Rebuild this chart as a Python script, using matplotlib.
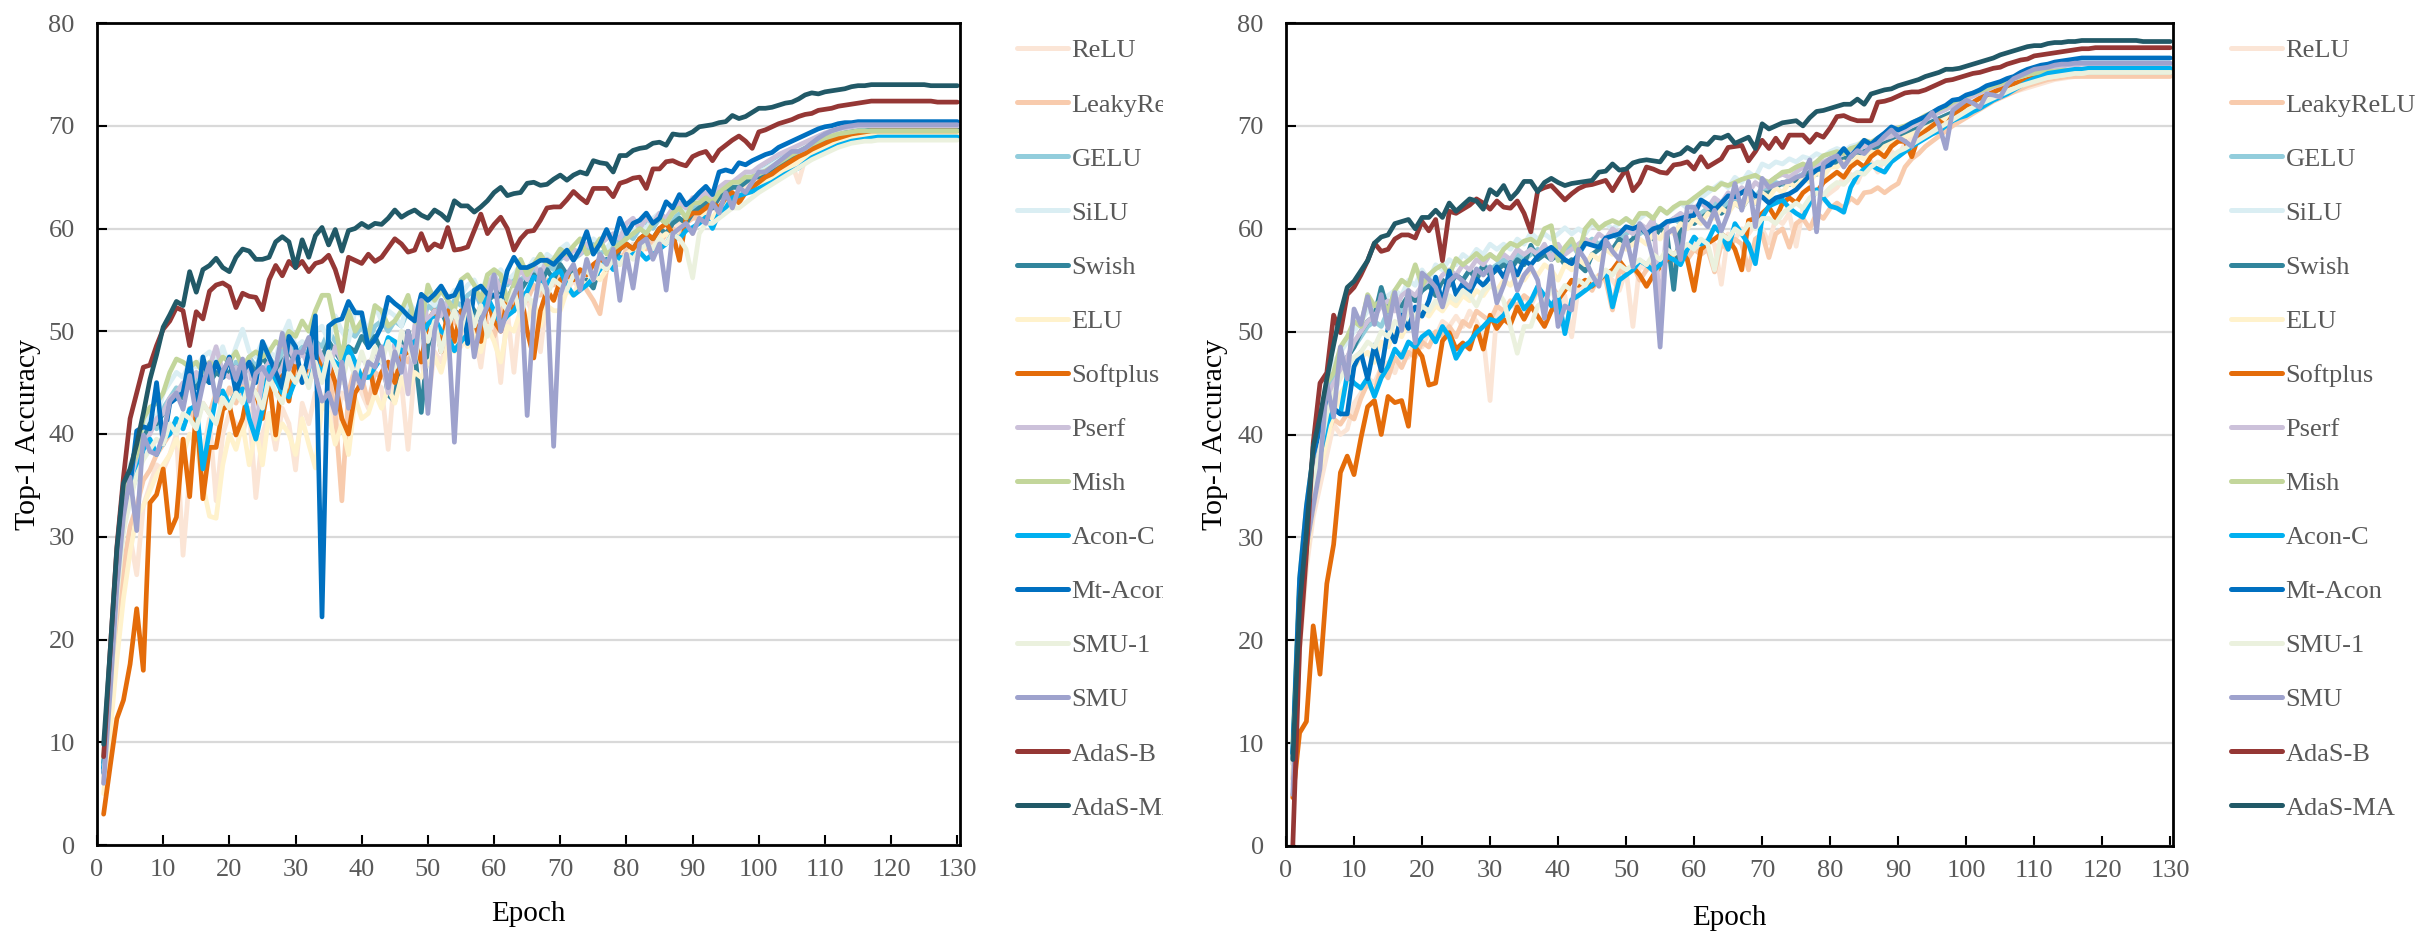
import matplotlib
matplotlib.use("Agg")
import matplotlib.pyplot as plt
from matplotlib.transforms import Bbox, TransformedBbox


OUT_PNG = "out.png"

epochs = list(range(1, 131))

labels = ["ReLU", "LeakyReLU", "GELU", "SiLU", "Swish", "ELU", "Softplus", "Pserf",
          "Mish", "Acon-C", "Mt-Acon", "SMU-1", "SMU", "AdaS-B", "AdaS-MA"]
colors = ["#FBE5D6", "#F8CBAD", "#92CDDC", "#DAEEF3", "#31859C", "#FFF2CC", "#E46C0A",
          "#CCC1DA", "#C3D69B", "#00B0F0", "#0070C0", "#EBF1DE", "#9EA2CD", "#953735",
          "#215967"]

# ---------------- left panel (a) ----------------
relu_a = [
    6.5, 14.0, 21.0, 27.0, 30.0, 26.3, 33.0, 35.0, 37.0, 36.5,
    38.0, 40.0, 28.2, 36.0, 40.0, 38.0, 41.5, 33.5, 40.0, 42.0,
    41.0, 40.0, 42.5, 33.8, 40.0, 42.0, 38.5, 42.5, 41.0, 36.5,
    43.0, 41.0, 44.0, 42.5, 45.0, 40.0, 44.0, 43.0, 45.5, 44.0,
    42.5, 45.0, 44.5, 38.5, 46.0, 45.0, 38.5, 46.5, 47.5, 43.0,
    48.0, 47.0, 49.0, 50.0, 48.5, 51.0, 50.0, 46.5, 51.5, 51.0,
    45.0, 52.0, 46.0, 52.5, 53.0, 51.5, 48.0, 53.5, 53.0, 54.5,
    54.0, 55.0, 54.0, 56.0, 55.5, 56.5, 56.0, 57.0, 57.5, 57.0,
    58.5, 58.0, 59.0, 58.5, 59.5, 60.0, 59.5, 60.5, 61.0, 61.0,
    61.5, 62.0, 62.5, 62.5, 63.0, 63.5, 63.0, 64.0, 64.5, 64.5,
    64.8, 65.2, 65.5, 65.9, 66.3, 64.5, 66.8, 67.3, 67.7, 68.0,
    68.3, 68.5, 68.7, 68.8, 68.9, 69.0, 69.0, 69.0, 69.0, 69.0,
    69.0, 69.0, 69.0, 69.0, 69.0, 69.0, 69.0, 69.0, 69.0, 69.0,
]
leaky_a = [
    6.0, 13.0, 20.5, 27.0, 31.0, 33.0, 35.5, 36.5, 38.0, 39.0,
    40.0, 41.5, 40.5, 42.5, 41.0, 43.0, 42.0, 44.0, 42.5, 44.5,
    43.0, 45.0, 44.0, 43.5, 45.5, 44.0, 46.0, 45.0, 44.5, 46.0,
    45.0, 46.5, 45.5, 47.0, 46.0, 42.0, 33.5, 44.0, 46.5, 45.5,
    43.0, 46.0, 45.5, 47.0, 46.5, 48.0, 47.0, 48.5, 47.5, 49.0,
    50.0, 49.0, 50.5, 51.0, 50.0, 52.0, 51.0, 52.5, 50.5, 49.5,
    52.0, 53.0, 52.5, 54.0, 53.0, 54.5, 53.5, 55.0, 54.5, 55.5,
    55.0, 56.0, 55.5, 54.0, 53.0, 51.7, 56.0, 57.0, 56.5, 58.0,
    57.5, 58.5, 58.0, 59.0, 58.5, 59.5, 60.0, 59.5, 60.5, 61.0,
    61.0, 61.5, 62.0, 62.0, 62.5, 63.0, 63.0, 63.5, 64.0, 64.5,
    64.9, 65.3, 65.7, 66.1, 66.5, 66.9, 67.3, 67.7, 68.1, 68.4,
    68.7, 69.0, 69.2, 69.3, 69.4, 69.5, 69.5, 69.5, 69.5, 69.5,
    69.5, 69.5, 69.5, 69.5, 69.5, 69.5, 69.5, 69.5, 69.5, 69.5,
]
gelu_a = [
    7.5, 16.5, 26.0, 32.5, 36.5, 39.0, 40.5, 41.5, 40.5, 42.5,
    43.5, 44.5, 44.0, 46.0, 45.0, 46.5, 45.5, 47.0, 46.0, 46.5,
    47.0, 46.0, 47.5, 46.5, 48.0, 47.5, 46.5, 48.0, 49.0, 47.5,
    48.5, 47.5, 49.0, 48.5, 50.0, 49.0, 48.0, 50.0, 49.5, 50.5,
    49.0, 50.5, 51.0, 50.0, 51.0, 50.5, 52.0, 51.0, 50.5, 52.5,
    52.0, 53.0, 52.0, 53.0, 52.5, 53.5, 54.0, 52.5, 54.0, 54.5,
    55.0, 54.5, 55.5, 55.0, 55.5, 56.0, 55.5, 56.5, 56.0, 57.0,
    57.5, 57.0, 57.5, 58.0, 58.5, 57.5, 58.0, 58.5, 59.0, 59.5,
    59.0, 60.0, 60.5, 60.0, 61.0, 60.5, 61.0, 61.5, 62.0, 62.0,
    62.5, 63.0, 62.5, 63.5, 64.0, 64.0, 64.5, 65.0, 65.5, 65.5,
    65.9, 66.3, 66.7, 67.1, 67.5, 67.8, 68.1, 68.4, 68.7, 69.0,
    69.2, 69.4, 69.5, 69.6, 69.7, 69.8, 69.8, 69.8, 69.8, 69.8,
    69.8, 69.8, 69.8, 69.8, 69.8, 69.8, 69.8, 69.8, 69.8, 69.8,
]
silu_a = [
    8.0, 17.0, 26.5, 33.0, 37.0, 38.5, 40.5, 42.0, 41.5, 44.0,
    45.0, 46.0, 45.5, 47.0, 46.5, 47.5, 48.0, 47.0, 48.5, 46.5,
    48.5, 50.2, 48.0, 47.5, 49.0, 48.0, 47.5, 49.5, 51.0, 48.5,
    49.0, 48.5, 50.0, 50.5, 49.0, 51.5, 50.0, 49.0, 52.0, 51.5,
    50.0, 52.5, 51.0, 52.0, 51.5, 50.5, 53.0, 52.0, 51.5, 53.5,
    52.5, 54.0, 53.0, 54.0, 53.5, 54.5, 55.0, 53.5, 55.5, 55.0,
    56.0, 55.0, 55.5, 56.5, 56.0, 57.0, 56.0, 57.5, 57.0, 58.0,
    58.5, 57.5, 58.0, 58.5, 59.0, 58.5, 58.0, 59.0, 59.5, 60.0,
    59.5, 60.5, 60.0, 61.0, 61.5, 60.5, 61.5, 62.0, 61.5, 62.5,
    62.5, 63.0, 63.5, 63.0, 64.0, 64.5, 64.5, 65.0, 65.5, 65.5,
    65.8, 66.2, 66.6, 67.0, 67.4, 67.8, 68.1, 68.4, 68.7, 68.9,
    69.1, 69.3, 69.4, 69.5, 69.6, 69.6, 69.7, 69.7, 69.7, 69.7,
    69.7, 69.7, 69.7, 69.7, 69.7, 69.7, 69.7, 69.7, 69.7, 69.7,
]
swish_a = [
    8.0, 17.0, 26.5, 33.0, 36.0, 38.0, 39.5, 41.0, 41.0, 42.0,
    43.0, 44.0, 43.5, 45.0, 44.5, 45.5, 45.0, 46.0, 45.5, 46.0,
    46.5, 45.5, 47.0, 46.0, 47.5, 46.5, 46.0, 47.0, 48.0, 47.0,
    48.0, 47.0, 48.5, 47.5, 49.0, 48.0, 47.0, 48.5, 48.0, 49.5,
    48.5, 49.5, 48.0, 43.8, 43.2, 48.5, 50.0, 48.0, 42.1, 48.5,
    51.0, 52.0, 50.5, 52.0, 51.5, 53.0, 52.0, 51.0, 53.0, 53.5,
    54.0, 53.0, 54.5, 54.0, 55.0, 55.5, 54.5, 56.0, 55.0, 56.5,
    55.5, 56.0, 54.5, 55.0, 54.2, 56.5, 57.0, 56.5, 58.0, 58.5,
    58.0, 59.0, 59.5, 59.0, 60.0, 59.5, 60.5, 61.0, 60.5, 61.5,
    62.0, 62.5, 62.0, 63.0, 63.5, 64.0, 64.0, 64.5, 65.0, 65.0,
    65.4, 65.8, 66.2, 66.6, 67.0, 67.4, 67.8, 68.1, 68.4, 68.7,
    68.9, 69.1, 69.3, 69.4, 69.5, 69.5, 69.6, 69.6, 69.6, 69.6,
    69.6, 69.6, 69.6, 69.6, 69.6, 69.6, 69.6, 69.6, 69.6, 69.6,
]
elu_a = [
    5.0, 11.0, 18.0, 24.0, 28.5, 32.0, 33.0, 34.5, 36.0, 37.0,
    38.0, 39.5, 38.0, 40.0, 39.0, 35.0, 32.0, 31.8, 37.0, 40.0,
    38.5, 41.0, 37.0, 40.5, 37.0, 42.0, 39.5, 41.0, 40.0, 38.0,
    41.5, 39.0, 36.7, 43.0, 42.0, 39.0, 41.0, 38.0, 43.5, 41.5,
    42.0, 44.0, 42.5, 44.5, 43.0, 45.5, 44.0, 46.0, 45.5, 47.0,
    47.5, 46.0, 48.5, 48.0, 49.5, 48.5, 50.0, 48.0, 50.5, 49.0,
    47.0, 50.5, 50.0, 52.0, 51.0, 53.0, 50.5, 52.5, 52.0, 52.0,
    54.0, 53.5, 55.0, 54.5, 55.5, 55.0, 56.0, 57.0, 56.5, 57.5,
    58.0, 57.5, 58.5, 58.0, 59.0, 59.5, 59.0, 60.0, 60.5, 59.5,
    61.0, 61.5, 61.0, 62.0, 62.5, 62.0, 63.0, 63.5, 63.5, 64.0,
    64.5, 64.9, 65.3, 65.7, 66.1, 66.5, 66.9, 67.3, 67.7, 68.0,
    68.3, 68.6, 68.8, 69.0, 69.1, 69.2, 69.2, 69.2, 69.2, 69.2,
    69.2, 69.2, 69.2, 69.2, 69.2, 69.2, 69.2, 69.2, 69.2, 69.2,
]
softplus_a = [
    3.0, 7.7, 12.3, 14.1, 17.6, 23.0, 17.0, 33.3, 34.1, 36.6,
    30.4, 31.9, 39.5, 33.9, 42.4, 33.7, 38.7, 38.7, 42.4, 42.8,
    39.9, 41.5, 44.8, 44.0, 41.5, 45.3, 39.9, 45.7, 43.2, 47.3,
    45.3, 46.9, 48.0, 46.5, 47.0, 45.0, 41.5, 40.0, 44.0, 45.0,
    47.0, 44.0, 46.0, 47.0, 45.0, 47.5, 48.0, 49.0, 47.0, 51.0,
    52.0, 48.0, 52.0, 49.0, 52.0, 50.0, 51.0, 49.0, 53.0, 51.0,
    50.0, 53.0, 52.0, 54.0, 50.0, 47.4, 52.0, 54.0, 53.0, 55.0,
    55.5, 55.0, 56.0, 55.5, 56.5, 57.0, 56.0, 57.5, 58.0, 58.5,
    58.0, 59.0, 59.5, 59.0, 60.0, 60.5, 59.5, 56.9, 61.0, 61.5,
    61.5, 62.0, 62.5, 62.0, 63.0, 63.5, 62.5, 63.5, 64.0, 64.5,
    65.0, 65.3, 65.8, 66.2, 66.6, 67.0, 67.3, 67.7, 68.0, 68.3,
    68.6, 68.8, 69.0, 69.2, 69.3, 69.4, 69.5, 69.5, 69.5, 69.5,
    69.5, 69.5, 69.5, 69.5, 69.5, 69.5, 69.5, 69.5, 69.5, 69.5,
]
pserf_a = [
    7.0, 16.0, 25.5, 32.0, 35.0, 37.0, 39.0, 40.0, 41.5, 42.0,
    43.5, 44.0, 45.0, 44.5, 46.0, 45.0, 46.5, 48.5, 46.0, 45.5,
    46.5, 45.0, 47.5, 39.8, 46.0, 47.0, 45.5, 46.5, 48.5, 47.0,
    48.0, 46.5, 49.0, 47.5, 46.0, 48.5, 47.0, 48.0, 46.5, 47.5,
    46.5, 48.0, 47.5, 44.0, 49.0, 48.5, 43.9, 50.5, 53.5, 51.0,
    52.0, 51.5, 53.0, 52.0, 51.0, 50.5, 54.0, 53.0, 54.5, 55.5,
    54.0, 55.0, 54.5, 56.0, 55.0, 56.5, 55.5, 57.0, 56.5, 57.5,
    57.0, 58.0, 57.5, 58.5, 58.0, 58.5, 59.0, 59.5, 59.0, 60.5,
    61.0, 60.0, 61.0, 60.5, 61.5, 61.0, 62.0, 62.5, 62.0, 63.0,
    63.0, 63.5, 63.0, 64.0, 64.5, 64.5, 65.0, 65.5, 65.5, 66.0,
    66.4, 66.8, 67.2, 67.5, 67.8, 68.1, 68.4, 68.7, 69.0, 69.3,
    69.5, 69.7, 69.8, 69.9, 70.0, 70.0, 70.0, 70.0, 70.0, 70.0,
    70.0, 70.0, 70.0, 70.0, 70.0, 70.0, 70.0, 70.0, 70.0, 70.0,
]
mish_a = [
    8.5, 17.5, 27.0, 33.0, 36.5, 38.0, 41.5, 42.6, 43.0, 44.0,
    46.0, 47.3, 47.0, 46.5, 47.0, 46.0, 47.0, 46.5, 47.5, 47.0,
    48.0, 46.5, 47.5, 48.0, 47.5, 48.0, 49.0, 48.5, 50.0, 49.5,
    51.0, 50.0, 52.0, 53.5, 53.5, 50.5, 47.0, 52.0, 50.0, 51.0,
    49.5, 52.5, 52.0, 50.5, 51.0, 52.0, 53.5, 51.0, 50.5, 54.5,
    53.0, 54.0, 53.0, 52.0, 55.0, 55.5, 54.5, 53.0, 55.5, 56.0,
    55.5, 53.0, 54.5, 57.0, 55.5, 56.5, 57.5, 56.5, 57.0, 58.0,
    57.5, 58.3, 59.0, 57.5, 58.0, 59.0, 57.5, 58.0, 58.5, 59.0,
    59.5, 60.0, 59.5, 60.5, 61.0, 60.5, 61.5, 62.0, 61.0, 62.5,
    62.5, 63.0, 62.5, 63.5, 64.0, 64.5, 64.5, 65.0, 65.0, 65.3,
    65.6, 66.0, 66.4, 66.8, 67.2, 67.5, 67.8, 68.2, 68.5, 68.8,
    69.0, 69.2, 69.3, 69.4, 69.5, 69.5, 69.5, 69.5, 69.5, 69.5,
    69.5, 69.5, 69.5, 69.5, 69.5, 69.5, 69.5, 69.5, 69.5, 69.5,
]
aconc_a = [
    7.5, 16.0, 25.0, 31.0, 34.0, 36.0, 38.5, 39.5, 38.0, 39.5,
    40.0, 41.5, 40.5, 42.4, 42.8, 36.6, 40.3, 43.6, 44.2, 42.8,
    44.0, 44.4, 41.5, 39.5, 42.4, 46.5, 45.3, 44.0, 43.6, 45.3,
    46.1, 45.0, 47.0, 46.0, 47.5, 47.0, 46.5, 48.4, 47.0, 45.5,
    45.5, 46.5, 47.5, 49.4, 49.0, 48.0, 48.5, 49.0, 49.5, 50.7,
    51.3, 50.0, 49.5, 48.1, 49.0, 49.7, 51.0, 52.0, 53.3, 52.0,
    50.7, 51.5, 52.0, 53.0, 53.9, 55.3, 55.0, 54.6, 55.5, 55.9,
    54.5, 53.5, 54.0, 54.5, 55.2, 56.0, 56.9, 56.0, 57.2, 57.0,
    57.5, 57.7, 57.0, 57.5, 58.0, 58.5, 59.5, 59.0, 59.8, 60.1,
    60.5, 61.1, 60.0, 61.5, 62.0, 63.0, 63.2, 63.4, 63.6, 63.9,
    64.2, 64.5, 64.9, 65.3, 65.6, 65.9, 66.4, 66.9, 67.2, 67.5,
    67.8, 68.1, 68.3, 68.5, 68.6, 68.7, 68.8, 68.9, 68.9, 68.9,
    68.9, 68.9, 68.9, 68.9, 68.9, 68.9, 68.9, 68.9, 68.9, 68.9,
]
mtacon_a = [
    7.0, 16.0, 26.0, 32.0, 35.0, 40.3, 40.7, 40.5, 45.0, 39.0,
    43.0, 43.5, 44.0, 47.5, 42.0, 47.5, 45.0, 47.0, 45.5, 47.5,
    44.0, 46.0, 47.0, 45.0, 49.0, 47.5, 46.0, 44.5, 49.5, 48.5,
    45.0, 48.0, 51.5, 22.2, 50.5, 51.0, 51.2, 52.9, 51.8, 51.8,
    48.4, 49.2, 50.5, 53.3, 52.7, 52.2, 51.5, 51.0, 53.6, 53.0,
    53.6, 54.4, 53.3, 53.5, 54.8, 48.8, 54.0, 54.4, 53.6, 53.5,
    53.0, 55.9, 57.2, 56.2, 56.2, 56.5, 56.9, 56.9, 56.5, 57.2,
    57.9, 56.9, 58.0, 59.7, 57.5, 58.5, 59.9, 58.5, 61.0, 59.5,
    60.5, 60.8, 61.5, 60.5, 61.0, 62.6, 62.0, 63.3, 62.3, 62.8,
    63.5, 64.1, 63.3, 65.5, 65.7, 65.5, 66.4, 66.2, 66.6, 66.9,
    67.2, 67.4, 67.9, 68.2, 68.5, 68.8, 69.1, 69.4, 69.7, 69.9,
    70.0, 70.2, 70.3, 70.3, 70.4, 70.4, 70.4, 70.4, 70.4, 70.4,
    70.4, 70.4, 70.4, 70.4, 70.4, 70.4, 70.4, 70.4, 70.4, 70.4,
]
smu1_a = [
    6.5, 15.0, 24.0, 30.5, 33.5, 36.0, 37.5, 38.5, 39.5, 39.0,
    41.0, 40.0, 42.0, 41.5, 40.5, 43.0, 42.0, 41.0, 43.5, 42.5,
    44.0, 43.0, 45.0, 44.0, 42.5, 45.5, 44.0, 43.0, 46.0, 45.0,
    46.5, 44.5, 47.0, 45.0, 48.0, 46.5, 45.0, 47.5, 45.5, 48.0,
    46.0, 48.5, 47.0, 49.0, 46.5, 50.0, 48.5, 47.0, 50.5, 49.0,
    51.0, 48.0, 50.5, 52.0, 50.0, 53.0, 50.5, 52.5, 49.5, 51.5,
    53.0, 52.0, 54.0, 51.5, 53.5, 52.5, 54.5, 53.5, 55.0, 54.5,
    54.0, 55.5, 55.0, 56.0, 55.0, 56.5, 56.0, 57.0, 56.5, 57.5,
    57.0, 58.0, 58.5, 58.0, 59.0, 58.5, 59.5, 59.0, 58.0, 55.2,
    59.5, 60.5, 60.5, 61.0, 61.5, 62.0, 62.0, 62.5, 63.0, 63.5,
    63.9, 64.3, 64.7, 65.1, 65.5, 65.9, 66.3, 66.7, 67.0, 67.3,
    67.6, 67.9, 68.1, 68.3, 68.4, 68.5, 68.5, 68.6, 68.6, 68.6,
    68.6, 68.6, 68.6, 68.6, 68.6, 68.6, 68.6, 68.6, 68.6, 68.6,
]
smu_a = [
    6.0, 15.0, 25.0, 32.0, 35.8, 30.6, 39.9, 38.3, 38.0, 39.9,
    43.2, 44.0, 42.4, 45.7, 41.8, 44.8, 46.9, 43.2, 46.1, 47.3,
    45.3, 47.3, 43.2, 45.9, 46.5, 45.3, 46.5, 49.8, 46.3, 48.0,
    47.9, 49.4, 45.7, 43.2, 44.0, 42.0, 47.0, 42.5, 46.0, 44.5,
    47.0, 46.5, 48.5, 44.5, 48.0, 46.0, 50.0, 47.0, 53.0, 42.0,
    50.0, 53.0, 51.0, 39.2, 51.0, 53.0, 47.5, 51.0, 52.5, 55.5,
    50.0, 52.0, 53.5, 55.0, 41.8, 52.0, 56.0, 54.0, 38.8, 53.5,
    55.5, 56.5, 54.0, 57.0, 55.0, 57.5, 56.5, 58.0, 53.0, 57.5,
    54.2, 58.5, 59.0, 57.0, 58.5, 54.0, 59.5, 60.0, 60.5, 59.5,
    61.0, 60.5, 62.5, 61.5, 63.5, 62.0, 64.0, 63.5, 64.5, 65.5,
    65.5, 66.0, 66.5, 67.0, 67.5, 67.5, 67.8, 68.3, 68.8, 69.2,
    69.5, 69.7, 69.9, 70.0, 70.1, 70.1, 70.1, 70.1, 70.1, 70.1,
    70.1, 70.1, 70.1, 70.1, 70.1, 70.1, 70.1, 70.1, 70.1, 70.1,
]
adasb_a = [
    8.6, 19.0, 29.0, 35.8, 41.5, 44.0, 46.5, 46.7, 48.6, 50.2,
    51.0, 52.3, 52.0, 48.6, 51.9, 51.2, 53.9, 54.5, 54.7, 54.3,
    52.3, 53.7, 53.4, 53.3, 52.1, 55.0, 56.4, 55.4, 56.8, 56.2,
    56.8, 55.8, 56.6, 56.8, 57.4, 56.0, 53.9, 57.2, 56.9, 56.6,
    57.5, 56.8, 57.2, 58.1, 59.0, 58.5, 57.7, 57.9, 59.5, 57.9,
    58.5, 58.2, 60.1, 57.9, 58.0, 58.2, 59.8, 61.4, 59.5, 60.4,
    61.1, 60.0, 57.9, 59.0, 59.7, 59.8, 60.8, 62.0, 62.1, 62.1,
    62.8, 63.6, 63.0, 62.5, 63.9, 63.9, 63.9, 63.1, 64.4, 64.6,
    64.9, 65.0, 63.9, 65.8, 65.8, 66.5, 66.6, 66.3, 66.1, 67.0,
    67.3, 67.5, 66.6, 67.6, 68.1, 68.6, 69.0, 68.5, 67.8, 69.4,
    69.6, 69.9, 70.2, 70.4, 70.6, 70.9, 71.1, 71.2, 71.5, 71.6,
    71.7, 71.9, 72.0, 72.1, 72.2, 72.3, 72.4, 72.4, 72.4, 72.4,
    72.4, 72.4, 72.4, 72.4, 72.4, 72.4, 72.3, 72.3, 72.3, 72.3,
]
adasma_a = [
    9.8, 19.0, 28.8, 35.2, 36.6, 39.0, 42.0, 45.3, 47.7, 50.4,
    51.6, 52.9, 52.5, 55.8, 53.8, 56.0, 56.4, 57.1, 56.2, 55.8,
    57.2, 58.0, 57.8, 57.0, 57.0, 57.2, 58.7, 59.2, 58.7, 56.2,
    58.9, 57.2, 59.3, 60.1, 58.4, 59.9, 57.8, 59.8, 60.0, 60.5,
    60.1, 60.5, 60.4, 61.0, 61.8, 61.1, 61.5, 61.8, 61.3, 61.0,
    61.8, 61.4, 60.8, 62.7, 62.2, 62.2, 61.6, 62.1, 62.7, 63.5,
    64.0, 63.2, 63.4, 63.5, 64.4, 64.5, 64.2, 64.3, 64.8, 65.2,
    64.7, 65.2, 65.5, 65.3, 66.6, 66.4, 66.3, 65.5, 67.1, 67.1,
    67.6, 67.8, 67.9, 68.3, 68.4, 68.1, 69.2, 69.1, 69.1, 69.4,
    69.9, 70.0, 70.1, 70.3, 70.4, 71.0, 70.7, 70.9, 71.3, 71.7,
    71.7, 71.8, 72.0, 72.2, 72.3, 72.6, 73.0, 73.2, 73.1, 73.3,
    73.4, 73.5, 73.6, 73.8, 73.9, 73.9, 74.0, 74.0, 74.0, 74.0,
    74.0, 74.0, 74.0, 74.0, 74.0, 73.9, 73.9, 73.9, 73.9, 73.9,
]

# ---------------- right panel (b) ----------------
relu_b = [
    6.0, 19.0, 27.0, 32.0, 35.0, 38.0, 41.0, 40.0, 40.5, 43.0,
    44.0, 45.5, 45.0, 46.5, 47.0, 46.0, 48.0, 47.5, 49.0, 48.5,
    50.0, 49.5, 51.0, 50.5, 51.5, 50.5, 52.0, 51.0, 49.5, 43.3,
    52.0, 51.5, 53.0, 52.0, 53.5, 52.5, 54.0, 53.0, 54.5, 52.0,
    53.5, 49.5, 54.5, 54.0, 55.0, 54.5, 55.5, 55.0, 54.0, 56.0,
    50.5, 56.5, 56.0, 57.0, 55.5, 57.5, 57.0, 58.0, 57.5, 58.5,
    58.0, 59.0, 58.5, 54.6, 59.5, 59.0, 60.0, 59.5, 60.5, 60.0,
    58.6, 61.0, 60.5, 61.5, 58.3, 62.0, 62.5, 62.0, 63.0, 63.5,
    64.0, 65.0, 65.3, 64.5, 66.0, 66.5, 65.5, 67.0, 67.5, 67.0,
    68.3, 68.8, 68.5, 69.4, 69.9, 69.6, 70.4, 70.8, 71.2, 71.5,
    71.8, 72.1, 72.4, 72.7, 72.9, 73.1, 73.3, 73.5, 73.7, 73.9,
    74.1, 74.3, 74.5, 74.6, 74.7, 74.8, 74.9, 75.0, 75.0, 75.0,
    75.0, 75.0, 75.0, 75.0, 75.0, 75.0, 75.0, 75.0, 75.0, 75.0,
]
leaky_b = [
    6.5, 20.5, 28.0, 33.0, 36.5, 40.0, 41.5, 41.0, 42.0, 41.5,
    43.5, 45.0, 44.0, 46.5, 45.5, 47.5, 46.5, 48.0, 47.5, 49.0,
    48.5, 50.0, 49.5, 50.5, 49.5, 51.0, 50.5, 52.0, 51.5, 51.0,
    52.5, 52.0, 53.0, 52.5, 53.5, 53.0, 54.0, 53.0, 54.5, 53.5,
    54.0, 55.0, 54.5, 55.0, 54.0, 55.5, 55.0, 52.1, 56.0, 55.5,
    56.5, 55.0, 56.0, 57.0, 56.5, 57.0, 56.5, 57.5, 57.0, 58.0,
    57.5, 58.0, 55.8, 58.5, 58.0, 59.0, 58.5, 56.0, 59.0, 59.5,
    57.2, 59.5, 60.0, 58.2, 60.5, 61.0, 60.0, 61.5, 61.0, 62.0,
    62.5, 62.0, 63.0, 62.5, 63.5, 63.6, 64.0, 63.5, 64.0, 64.4,
    66.0, 66.8, 67.3, 68.0, 68.5, 69.0, 69.5, 70.0, 70.4, 70.8,
    71.2, 71.6, 72.0, 72.4, 72.7, 73.0, 73.3, 73.6, 73.9, 74.1,
    74.3, 74.5, 74.6, 74.7, 74.8, 74.8, 74.8, 74.8, 74.8, 74.8,
    74.8, 74.8, 74.8, 74.8, 74.8, 74.8, 74.8, 74.8, 74.8, 74.8,
]
gelu_b = [
    9.0, 24.5, 31.5, 36.5, 40.0, 44.0, 45.5, 46.5, 47.5, 48.5,
    49.5, 50.5, 51.0, 50.5, 52.0, 52.5, 52.0, 53.5, 53.0, 54.0,
    54.5, 54.0, 55.0, 54.5, 55.5, 55.0, 56.0, 55.5, 56.5, 56.0,
    56.5, 57.0, 56.5, 57.5, 57.0, 57.5, 58.0, 57.5, 58.0, 57.0,
    58.0, 58.5, 57.5, 58.5, 59.0, 58.5, 59.0, 59.5, 59.0, 59.5,
    60.0, 59.5, 60.0, 60.5, 60.0, 60.5, 61.0, 60.5, 61.0, 61.5,
    61.5, 62.0, 62.5, 62.0, 62.5, 63.0, 62.5, 63.5, 63.0, 64.0,
    64.0, 64.5, 64.3, 64.8, 65.0, 65.3, 65.5, 66.0, 65.8, 66.3,
    66.5, 66.8, 67.0, 67.2, 67.5, 67.8, 68.0, 68.3, 68.6, 68.9,
    69.2, 69.5, 69.8, 70.1, 70.4, 70.7, 71.0, 71.3, 71.6, 71.9,
    72.2, 72.5, 72.8, 73.1, 73.4, 73.7, 74.0, 74.3, 74.5, 74.7,
    74.9, 75.0, 75.1, 75.2, 75.3, 75.3, 75.4, 75.4, 75.4, 75.4,
    75.4, 75.4, 75.4, 75.4, 75.4, 75.4, 75.4, 75.4, 75.4, 75.4,
]
silu_b = [
    9.5, 25.5, 32.5, 37.5, 41.0, 45.5, 47.0, 48.0, 49.0, 50.0,
    51.0, 52.0, 52.5, 53.0, 53.5, 54.0, 53.5, 55.0, 54.5, 56.0,
    55.0, 56.5, 56.0, 57.0, 56.5, 57.5, 57.0, 58.0, 57.5, 58.5,
    58.0, 58.5, 58.0, 59.0, 58.5, 59.6, 59.0, 59.5, 59.0, 59.5,
    60.1, 59.5, 60.0, 59.5, 60.5, 60.0, 60.5, 60.0, 60.5, 61.0,
    60.5, 61.0, 61.5, 61.0, 62.0, 61.5, 62.0, 62.5, 62.0, 63.0,
    63.0, 63.5, 64.0, 64.5, 64.0, 65.0, 64.5, 65.5, 65.0, 66.3,
    66.0, 66.5, 66.3, 66.8, 66.5, 67.0, 66.8, 67.3, 67.0, 67.5,
    67.8, 67.5, 68.0, 68.2, 68.5, 68.3, 68.8, 69.0, 69.3, 69.5,
    69.8, 70.0, 70.3, 70.6, 71.0, 71.3, 71.6, 72.0, 72.3, 72.6,
    72.9, 73.2, 73.5, 73.8, 74.0, 74.2, 74.4, 74.6, 74.8, 75.0,
    75.1, 75.2, 75.3, 75.3, 75.4, 75.4, 75.4, 75.4, 75.4, 75.4,
    75.4, 75.4, 75.4, 75.4, 75.4, 75.4, 75.4, 75.4, 75.4, 75.4,
]
swish_b = [
    8.5, 25.0, 32.0, 37.0, 40.0, 43.0, 44.5, 46.0, 47.5, 48.5,
    50.0, 51.0, 51.5, 54.3, 52.0, 53.0, 52.5, 53.5, 53.0, 54.0,
    54.5, 53.5, 55.0, 54.5, 55.5, 55.0, 56.0, 55.0, 56.5, 55.5,
    56.0, 56.5, 56.0, 57.0, 56.5, 58.4, 57.0, 57.5, 57.0, 57.5,
    56.5, 57.0, 56.5, 55.9, 57.5, 58.0, 58.5, 58.0, 59.0, 58.5,
    59.0, 60.2, 59.5, 59.0, 60.0, 59.5, 54.1, 60.5, 61.0, 60.5,
    61.0, 61.5, 62.0, 61.5, 62.0, 62.5, 62.0, 63.0, 62.5, 63.5,
    63.5, 64.0, 64.5, 64.3, 64.8, 65.0, 65.5, 65.3, 66.0, 66.3,
    66.5, 66.8, 67.0, 67.3, 67.5, 67.8, 68.0, 68.3, 68.6, 68.9,
    69.2, 69.5, 69.8, 70.1, 70.4, 70.7, 71.0, 71.3, 71.6, 71.9,
    72.2, 72.5, 72.8, 73.1, 73.4, 73.6, 73.9, 74.1, 74.3, 74.5,
    74.7, 74.8, 74.9, 75.0, 75.1, 75.1, 75.2, 75.2, 75.2, 75.2,
    75.2, 75.2, 75.2, 75.2, 75.2, 75.2, 75.2, 75.2, 75.2, 75.2,
]
elu_b = [
    7.0, 20.0, 28.0, 33.0, 36.5, 39.5, 42.0, 44.0, 45.0, 46.5,
    47.5, 48.0, 47.0, 49.0, 48.5, 50.0, 49.5, 51.0, 50.5, 52.0,
    51.5, 52.5, 52.0, 53.0, 52.5, 53.5, 53.0, 54.0, 53.5, 54.5,
    54.0, 55.0, 54.5, 55.5, 55.0, 56.0, 55.5, 56.5, 56.0, 55.0,
    56.5, 56.0, 57.0, 56.5, 57.5, 57.0, 58.0, 57.5, 58.5, 58.0,
    58.5, 59.0, 58.5, 59.5, 59.0, 60.0, 59.5, 60.5, 60.0, 61.0,
    60.5, 61.5, 61.0, 62.0, 61.5, 62.5, 62.0, 63.0, 62.5, 63.5,
    63.0, 64.0, 63.5, 64.5, 64.0, 65.0, 64.5, 65.5, 65.0, 66.0,
    66.0, 66.5, 66.3, 67.0, 66.8, 67.5, 67.3, 68.0, 68.3, 68.6,
    68.9, 69.2, 69.5, 69.8, 70.1, 70.4, 70.7, 71.0, 71.3, 71.6,
    71.9, 72.2, 72.5, 72.8, 73.1, 73.4, 73.7, 74.0, 74.2, 74.4,
    74.6, 74.7, 74.8, 74.9, 75.0, 75.1, 75.1, 75.2, 75.2, 75.2,
    75.2, 75.2, 75.2, 75.2, 75.2, 75.2, 75.2, 75.2, 75.2, 75.2,
]
softplus_b = [
    4.7, 11.0, 12.1, 21.4, 16.7, 25.5, 29.3, 36.3, 37.9, 36.1,
    39.6, 42.7, 43.3, 40.0, 43.7, 43.1, 43.3, 40.8, 48.5, 47.6,
    44.8, 45.0, 49.1, 49.9, 48.3, 48.9, 48.3, 50.5, 48.3, 51.6,
    50.3, 51.2, 50.7, 52.4, 51.2, 52.5, 51.5, 50.5, 52.0, 53.1,
    54.0, 55.0, 54.5, 55.0, 54.4, 55.0, 55.6, 56.0, 56.9, 56.0,
    56.3, 55.5, 54.4, 55.5, 56.3, 57.0, 57.5, 58.0, 57.0, 54.0,
    58.0, 58.6, 59.0, 59.5, 59.0, 58.0, 56.0, 60.8, 61.0, 61.5,
    62.1, 61.0, 62.5, 63.0, 62.5, 63.5, 64.0, 63.5, 64.5, 65.0,
    65.5, 65.0, 66.0, 66.5, 66.0, 67.0, 67.5, 67.0, 68.0, 68.5,
    68.5, 67.0, 69.0, 69.5, 70.0, 70.5, 70.0, 71.0, 71.5, 72.0,
    72.3, 72.7, 73.0, 73.3, 73.6, 73.9, 74.1, 74.3, 74.5, 74.7,
    74.9, 75.0, 75.1, 75.2, 75.3, 75.3, 75.3, 75.3, 75.3, 75.3,
    75.3, 75.3, 75.3, 75.3, 75.3, 75.3, 75.3, 75.3, 75.3, 75.3,
]
pserf_b = [
    8.0, 23.5, 30.5, 35.5, 39.0, 43.5, 45.0, 46.0, 47.5, 49.0,
    50.0, 51.0, 51.5, 52.5, 53.0, 52.0, 53.5, 54.0, 53.5, 54.5,
    55.0, 54.5, 55.5, 56.0, 55.5, 56.5, 56.0, 57.0, 56.5, 57.5,
    57.0, 57.5, 57.0, 58.0, 57.5, 58.0, 57.5, 58.5, 57.0, 58.5,
    57.5, 58.0, 58.5, 59.0, 58.5, 59.5, 59.0, 60.0, 59.5, 60.0,
    59.5, 60.5, 60.0, 61.0, 52.0, 60.5, 61.0, 61.5, 61.0, 62.0,
    62.5, 62.0, 63.0, 62.5, 63.5, 63.0, 64.0, 63.5, 64.5, 64.0,
    64.5, 65.0, 65.3, 65.0, 65.5, 66.0, 66.3, 66.0, 66.5, 66.8,
    67.0, 67.3, 67.5, 67.8, 68.0, 68.3, 68.5, 68.8, 69.0, 69.3,
    69.6, 70.0, 70.3, 70.6, 71.0, 71.3, 71.6, 72.0, 72.3, 72.6,
    72.9, 73.2, 73.5, 73.8, 74.0, 74.3, 74.6, 74.9, 75.1, 75.3,
    75.5, 75.6, 75.7, 75.8, 75.9, 75.9, 76.0, 76.0, 76.0, 76.0,
    76.0, 76.0, 76.0, 76.0, 76.0, 76.0, 76.0, 76.0, 76.0, 76.0,
]
mish_b = [
    10.0, 26.0, 33.0, 38.0, 41.5, 45.0, 46.0, 48.5, 49.5, 51.0,
    50.5, 53.6, 52.5, 53.0, 52.0, 54.0, 55.0, 54.5, 56.5, 54.5,
    55.5, 56.1, 56.5, 55.5, 57.1, 56.5, 57.0, 57.6, 57.0, 57.5,
    57.0, 58.0, 58.6, 58.3, 58.8, 59.0, 58.5, 60.0, 60.3, 56.9,
    58.2, 59.0, 57.5, 60.0, 60.8, 60.0, 60.5, 60.8, 60.5, 61.0,
    60.5, 61.5, 61.5, 61.0, 62.0, 61.5, 62.1, 62.5, 62.5, 63.0,
    63.5, 64.0, 63.8, 64.4, 64.2, 64.5, 64.8, 65.0, 65.2, 64.8,
    64.5, 65.0, 65.5, 65.6, 66.0, 66.3, 66.0, 66.5, 67.1, 67.3,
    67.5, 67.3, 67.8, 68.0, 68.6, 68.4, 68.8, 69.2, 69.5, 69.8,
    70.0, 70.3, 70.6, 71.0, 71.3, 71.6, 71.9, 72.3, 72.6, 72.9,
    73.2, 73.4, 73.6, 73.9, 74.1, 74.4, 74.6, 74.8, 75.0, 75.1,
    75.2, 75.3, 75.3, 75.4, 75.4, 75.4, 75.4, 75.4, 75.4, 75.4,
    75.4, 75.4, 75.4, 75.4, 75.4, 75.4, 75.4, 75.4, 75.4, 75.4,
]
aconc_b = [
    9.0, 25.0, 31.0, 35.0, 38.0, 41.0, 42.5, 42.0, 45.8, 45.0,
    44.5, 45.5, 43.7, 45.5, 46.6, 48.3, 47.5, 49.0, 48.5, 49.5,
    50.0, 49.0, 50.5, 49.5, 47.4, 48.5, 49.0, 49.9, 50.5, 51.2,
    51.0, 51.6, 52.5, 53.6, 52.2, 53.0, 54.4, 53.5, 52.5, 53.5,
    49.8, 53.1, 53.5, 54.0, 54.5, 55.0, 55.9, 52.4, 55.0, 55.5,
    56.0, 56.9, 56.5, 55.9, 56.5, 57.3, 57.0, 56.5, 58.0, 59.2,
    58.5, 58.8, 60.2, 59.5, 58.0, 60.5, 59.5, 58.5, 56.6, 61.1,
    62.2, 62.5, 62.8, 62.0, 61.5, 61.1, 62.5, 63.8, 63.0, 62.2,
    62.0, 61.6, 64.0, 65.2, 65.8, 66.2, 65.8, 65.5, 66.5, 67.0,
    67.5, 68.0, 68.4, 68.8, 69.2, 69.5, 70.0, 70.5, 70.8, 71.0,
    71.4, 71.7, 72.1, 72.5, 72.8, 73.1, 73.5, 73.9, 74.3, 74.6,
    74.8, 75.1, 75.2, 75.3, 75.4, 75.5, 75.5, 75.6, 75.6, 75.6,
    75.6, 75.6, 75.6, 75.6, 75.6, 75.6, 75.6, 75.6, 75.6, 75.6,
]
mtacon_b = [
    9.0, 26.0, 33.0, 38.0, 40.5, 43.5, 42.5, 42.0, 42.0, 46.6,
    48.0, 45.4, 48.7, 46.2, 50.3, 49.0, 51.6, 50.3, 52.4, 51.5,
    53.0, 55.3, 52.8, 55.9, 53.6, 54.7, 53.8, 55.1, 54.5, 55.3,
    56.3, 55.3, 56.7, 55.5, 56.9, 56.5, 57.3, 57.8, 58.2, 57.6,
    57.0, 56.6, 57.5, 58.6, 58.4, 58.2, 59.1, 59.3, 59.5, 60.2,
    60.0, 60.3, 59.5, 60.0, 60.2, 60.7, 60.8, 61.0, 61.2, 61.3,
    62.8, 62.4, 61.8, 62.5, 63.2, 63.1, 63.5, 63.9, 63.2, 63.1,
    62.5, 63.0, 63.2, 63.4, 63.8, 64.5, 65.2, 65.7, 66.0, 66.2,
    67.0, 67.8, 67.0, 67.8, 68.6, 68.2, 68.8, 69.3, 69.9, 69.6,
    69.9, 70.3, 70.6, 70.9, 71.3, 71.7, 72.0, 72.5, 72.6, 73.0,
    73.2, 73.5, 73.9, 74.1, 74.3, 74.6, 74.8, 75.2, 75.5, 75.7,
    75.9, 76.0, 76.2, 76.3, 76.4, 76.5, 76.6, 76.6, 76.6, 76.6,
    76.6, 76.6, 76.6, 76.6, 76.6, 76.6, 76.6, 76.6, 76.6, 76.6,
]
smu1_b = [
    8.0, 22.0, 30.0, 35.0, 38.5, 42.0, 44.0, 45.5, 46.5, 47.5,
    48.0, 49.0, 48.5, 50.0, 49.5, 51.0, 50.5, 52.0, 51.5, 52.5,
    52.0, 53.0, 52.5, 53.5, 53.0, 54.0, 53.5, 52.5, 54.0, 54.5,
    54.0, 53.0, 50.5, 47.9, 50.5, 50.5, 52.5, 53.0, 54.0, 53.5,
    54.5, 54.0, 55.0, 54.5, 55.5, 55.0, 56.0, 55.5, 56.5, 56.0,
    56.5, 57.0, 56.5, 57.5, 57.0, 58.0, 57.5, 58.0, 58.5, 58.0,
    59.0, 58.5, 56.0, 59.5, 59.0, 60.0, 59.5, 60.5, 60.0, 61.0,
    61.0, 60.5, 61.5, 62.0, 62.5, 62.0, 63.0, 63.5, 63.3, 64.0,
    64.5, 64.3, 65.0, 65.5, 65.3, 66.0, 66.5, 66.3, 67.0, 67.5,
    67.8, 68.2, 68.6, 69.0, 69.4, 69.8, 70.2, 70.6, 71.0, 71.4,
    71.8, 72.1, 72.4, 72.7, 73.0, 73.3, 73.6, 73.9, 74.1, 74.3,
    74.5, 74.7, 74.8, 74.9, 75.0, 75.1, 75.1, 75.2, 75.2, 75.2,
    75.2, 75.2, 75.2, 75.2, 75.2, 75.2, 75.2, 75.2, 75.2, 75.2,
]
smu_b = [
    5.0, 22.0, 29.0, 33.0, 36.7, 45.0, 41.7, 48.5, 45.4, 52.2,
    50.7, 53.4, 50.7, 53.6, 50.3, 53.8, 50.1, 54.0, 48.9, 55.7,
    55.1, 54.3, 52.4, 54.9, 55.5, 54.9, 54.3, 56.1, 55.5, 56.3,
    52.8, 54.5, 56.7, 54.0, 55.5, 56.3, 55.0, 51.3, 56.4, 50.5,
    52.5, 52.1, 58.0, 57.0, 55.5, 54.4, 58.9, 57.8, 57.0, 59.2,
    56.3, 60.5, 59.5, 57.0, 48.5, 59.5, 60.0, 57.0, 62.1, 62.1,
    61.0, 60.2, 61.8, 59.8, 61.5, 64.4, 61.8, 64.6, 60.2, 64.9,
    64.0, 64.3, 64.5, 64.6, 65.0, 65.2, 66.7, 59.7, 66.3, 66.8,
    67.1, 66.0, 67.0, 67.6, 67.3, 68.0, 68.3, 69.0, 69.6, 68.9,
    68.5, 68.0, 69.7, 70.5, 71.3, 70.1, 67.8, 71.5, 72.0, 72.5,
    72.2, 71.8, 73.1, 73.0, 72.8, 74.0, 74.6, 74.9, 75.2, 75.5,
    75.6, 75.7, 75.9, 76.0, 76.0, 76.1, 76.1, 76.1, 76.1, 76.1,
    76.1, 76.1, 76.1, 76.1, 76.1, 76.1, 76.1, 76.1, 76.1, 76.1,
]
adasb_b = [
    0.0, 19.3, 28.4, 39.2, 45.0, 46.0, 51.6, 49.9, 53.6, 54.3,
    55.5, 56.9, 58.6, 57.8, 58.0, 59.0, 59.4, 59.4, 59.1, 60.7,
    59.8, 60.9, 56.9, 61.7, 61.5, 61.9, 62.3, 62.9, 62.5, 61.9,
    62.7, 62.1, 62.0, 62.7, 61.5, 59.7, 63.7, 64.0, 64.2, 63.5,
    62.8, 63.4, 63.9, 64.2, 64.3, 64.5, 64.7, 63.7, 64.8, 65.8,
    63.7, 64.5, 66.0, 65.8, 65.5, 65.4, 66.2, 66.3, 66.5, 65.8,
    67.0, 66.0, 66.4, 66.8, 67.9, 68.0, 68.1, 66.6, 67.5, 68.6,
    67.8, 68.8, 67.9, 69.1, 69.1, 69.1, 68.4, 69.2, 68.9, 69.8,
    70.9, 71.0, 70.7, 70.5, 70.5, 70.5, 72.3, 72.4, 72.6, 72.9,
    73.2, 73.3, 73.3, 73.5, 73.8, 74.1, 74.4, 74.5, 74.7, 74.9,
    75.1, 75.2, 75.4, 75.6, 75.7, 76.0, 76.2, 76.4, 76.5, 76.8,
    76.9, 77.0, 77.1, 77.2, 77.3, 77.4, 77.5, 77.5, 77.6, 77.6,
    77.6, 77.6, 77.6, 77.6, 77.6, 77.6, 77.6, 77.6, 77.6, 77.6,
]
adasma_b = [
    8.4, 23.5, 30.5, 38.8, 41.7, 45.4, 48.7, 51.8, 54.3, 54.9,
    55.9, 56.9, 58.6, 59.2, 59.4, 60.5, 60.7, 60.9, 60.0, 61.1,
    61.1, 61.8, 61.1, 62.5, 61.7, 62.3, 62.9, 62.7, 61.9, 63.8,
    63.3, 64.2, 62.9, 63.6, 64.6, 64.6, 63.6, 64.5, 64.9, 64.5,
    64.2, 64.4, 64.5, 64.6, 64.7, 65.5, 65.6, 66.3, 65.7, 65.8,
    66.4, 66.6, 66.7, 66.6, 66.5, 67.4, 67.1, 67.3, 67.9, 67.5,
    68.3, 68.2, 68.9, 68.8, 69.1, 68.3, 68.6, 68.9, 67.8, 70.2,
    69.7, 70.0, 70.3, 70.4, 70.5, 70.0, 70.8, 71.4, 71.5, 71.7,
    71.9, 72.1, 72.1, 72.6, 72.1, 73.1, 73.3, 73.5, 73.6, 73.9,
    74.1, 74.3, 74.5, 74.8, 75.0, 75.2, 75.5, 75.5, 75.6, 75.8,
    76.0, 76.2, 76.4, 76.6, 76.9, 77.1, 77.3, 77.5, 77.7, 77.8,
    77.8, 78.0, 78.1, 78.1, 78.2, 78.2, 78.3, 78.3, 78.3, 78.3,
    78.3, 78.3, 78.3, 78.3, 78.3, 78.2, 78.2, 78.2, 78.2, 78.2,
]

series_a = [relu_a, leaky_a, gelu_a, silu_a, swish_a, elu_a, softplus_a, pserf_a,
            mish_a, aconc_a, mtacon_a, smu1_a, smu_a, adasb_a, adasma_a]
series_b = [relu_b, leaky_b, gelu_b, silu_b, swish_b, elu_b, softplus_b, pserf_b,
            mish_b, aconc_b, mtacon_b, smu1_b, smu_b, adasb_b, adasma_b]

yticks = [0, 10, 20, 30, 40, 50, 60, 70, 80]
xticks = [0, 10, 20, 30, 40, 50, 60, 70, 80, 90, 100, 110, 120, 130]


def configure_style():
    plt.rcParams.update(
        {
            "font.family": ["Liberation Serif", "DejaVu Serif"],
            "font.size": 19,
            "axes.linewidth": 2.0,
            "xtick.labelsize": 19,
            "ytick.labelsize": 19,
            "xtick.color": "black",
            "ytick.color": "black",
            "xtick.labelcolor": "#595959",
            "ytick.labelcolor": "#595959",
        }
    )


def format_axis(ax):
    ax.set_xlim(0, 130.4)
    ax.set_ylim(0, 80)
    ax.set_xticks(xticks)
    ax.set_yticks(yticks)
    ax.grid(axis="y", color="#D9D9D9", linewidth=1.6)
    ax.set_axisbelow(True)
    for spine in ax.spines.values():
        spine.set_color("black")
        spine.set_linewidth(2.0)
    ax.tick_params(axis="x", direction="in", length=7, width=1.5, pad=10)
    ax.tick_params(axis="y", direction="in", length=7, width=1.5, pad=16)
    ax.set_xlabel("Epoch", fontsize=21, color="black")
    ax.set_ylabel("Top-1 Accuracy", fontsize=21.5, color="black")


def draw_panel(ax, series):
    for lab, col, ys in zip(labels, colors, series):
        assert len(ys) == len(epochs), lab
        ax.plot(epochs, ys, color=col, linewidth=3.4, label=lab,
                solid_joinstyle="round", solid_capstyle="round")


configure_style()

W, H = 2417, 931
fig = plt.figure(figsize=(W / 100, H / 100), dpi=100)
ax_a = fig.add_axes([97 / W, 1 - 845 / H, 863 / W, 822 / H])
ax_b = fig.add_axes([1286 / W, 1 - 846 / H, 887 / W, 823 / H])

for ax, series in ((ax_a, series_a), (ax_b, series_b)):
    draw_panel(ax, series)
    format_axis(ax)
    ax.yaxis.set_label_coords(-0.08, 0.5)
    ax.yaxis.label.set_verticalalignment("center")

ax_a.xaxis.set_label_coords(0.5, -0.084)
ax_b.xaxis.set_label_coords(0.5, -0.088)
for ax in (ax_a, ax_b):
    ax.xaxis.label.set_verticalalignment("center")

legends = []
for ax, x0 in ((ax_a, 1017), (ax_b, 2231)):
    leg = ax.legend(
        loc="upper left",
        bbox_to_anchor=(x0 / W, 1 - 39 / H),
        bbox_transform=fig.transFigure,
        frameon=False,
        fontsize=19,
        handlelength=1.95,
        handletextpad=0.12,
        labelspacing=1.16,
        borderpad=0,
        borderaxespad=0,
        labelcolor="#595959",
    )
    for line in leg.get_lines():
        line.set_linewidth(3.6)
        line.set_solid_capstyle("round")
    legends.append(leg)

# the left legend is cut off where the right panel's area begins
clip = TransformedBbox(Bbox.from_extents(0, 0, 1163 / W, 1), fig.transFigure)
for t in legends[0].get_texts():
    t.set_clip_on(True)
    t.set_clip_box(clip)

fig.savefig(OUT_PNG, dpi=100, facecolor="white")
plt.close(fig)
